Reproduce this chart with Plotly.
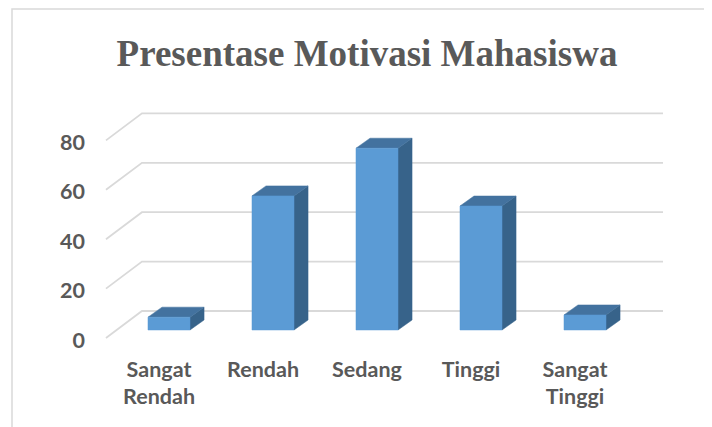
import plotly.graph_objects as go

# ---------------- data ----------------
categories = ["Sangat Rendah", "Rendah", "Sedang", "Tinggi", "Sangat Tinggi"]
tick_labels = ["Sangat<br>Rendah", "Rendah", "Sedang", "Tinggi", "Sangat<br>Tinggi"]
values = [5.2, 54.3, 73.6, 50.2, 6.1]
y_ticks = [0, 20, 40, 60, 80]
title_text = "Presentase Motivasi Mahasiswa"

# ---------------- style / geometry (pseudo-3D) ----------------
OFF = 8                                   # page body margin
W, H = 712 - OFF, 427 - OFF
L, R, T, B = 88 - OFF, 700 - OFF, 100 - OFF, 348 - OFF   # plot area px
X0PX, XSTEP = 169 - OFF, 104              # pixel of category 0, px per category
Y0PX, YSCALE = 330 - OFF, 2.47            # pixel of value 0, px per unit

BAR_W = 0.404
DEPTH_DX, DEPTH_DY = 0.135, 4.05          # bar depth offset (data units)
WALL_DY = 7.7                             # back wall offset above bar plane
WALL_LEFT, WALL_RIGHT = -0.26, 4.75
FLOOR_FRONT_X, FLOOR_FRONT_DY = -0.606, -3.24
YLABEL_DY = -4.1
LABEL_SHIFT = -0.096

FRONT = "#5B9BD5"
TOP = "#43729F"
SIDE = "#37638A"
GRID = "#D9D9D9"
TEXT = "#595959"

xr = [(L - X0PX) / XSTEP, (R - X0PX) / XSTEP]
yr = [(Y0PX - B) / YSCALE, (Y0PX - T) / YSCALE]

fig = go.Figure()

# gridlines: back wall + floor diagonal
gx, gy = [], []
for v in y_ticks:
    gx += [FLOOR_FRONT_X, WALL_LEFT, WALL_RIGHT, None]
    gy += [v + FLOOR_FRONT_DY, v + WALL_DY, v + WALL_DY, None]
fig.add_trace(go.Scatter(x=gx, y=gy, mode="lines",
                         line=dict(color=GRID, width=1.8),
                         hoverinfo="skip", showlegend=False))

# bars (front, side, top faces)
for i, v in enumerate(values):
    xl, xrt = i - BAR_W / 2, i + BAR_W / 2
    fig.add_trace(go.Scatter(
        x=[xrt, xrt + DEPTH_DX, xrt + DEPTH_DX, xrt, xrt],
        y=[0, DEPTH_DY, v + DEPTH_DY, v, 0],
        fill="toself", fillcolor=SIDE, mode="lines",
        line=dict(color=SIDE, width=0.5), hoverinfo="skip", showlegend=False))
    fig.add_trace(go.Scatter(
        x=[xl, xrt, xrt + DEPTH_DX, xl + DEPTH_DX, xl],
        y=[v, v, v + DEPTH_DY, v + DEPTH_DY, v],
        fill="toself", fillcolor=TOP, mode="lines",
        line=dict(color=TOP, width=0.5), hoverinfo="skip", showlegend=False))
    fig.add_trace(go.Scatter(
        x=[xl, xrt, xrt, xl, xl],
        y=[0, 0, v, v, 0],
        fill="toself", fillcolor=FRONT, mode="lines",
        line=dict(color=FRONT, width=0.5), name=categories[i],
        hovertemplate="%{text}: " + str(v) + "<extra></extra>",
        text=[categories[i]] * 5, showlegend=False))

# chart border (extends beyond the right and bottom edges)
pw, ph = R - L, B - T
fig.add_shape(type="rect", xref="paper", yref="paper",
              x0=(12 - OFF - L) / pw, x1=(W + 10 - L) / pw,
              y0=(B - (H + 10)) / ph, y1=(B - (9 - OFF)) / ph,
              line=dict(color=GRID, width=1.5), fillcolor="rgba(0,0,0,0)",
              layer="below")

fig.update_layout(
    width=W, height=H,
    margin=dict(l=L, r=W - R, t=T, b=H - B),
    paper_bgcolor="white", plot_bgcolor="white",
    title=dict(text="<b>" + title_text + "</b>", x=(367 - OFF) / W, xref="container",
               xanchor="center", y=1 - (53 - OFF) / H, yref="container", yanchor="middle",
               font=dict(family="Liberation Serif", size=37, color=TEXT)),
    xaxis=dict(range=xr, showgrid=False, zeroline=False, showline=False,
               tickvals=[i + LABEL_SHIFT for i in range(len(categories))],
               ticktext=tick_labels, ticks="", ticklabelstandoff=6,
               tickfont=dict(family="Lato", size=21.5, color=TEXT, weight="bold")),
    yaxis=dict(range=yr, showgrid=False, zeroline=False, showline=False,
               tickvals=[v + YLABEL_DY for v in y_ticks],
               ticktext=[str(v) for v in y_ticks], ticks="", ticklabelstandoff=2,
               tickfont=dict(family="Lato", size=21.5, color=TEXT, weight="bold")),
    showlegend=False,
)

fig.write_html("out.html")
